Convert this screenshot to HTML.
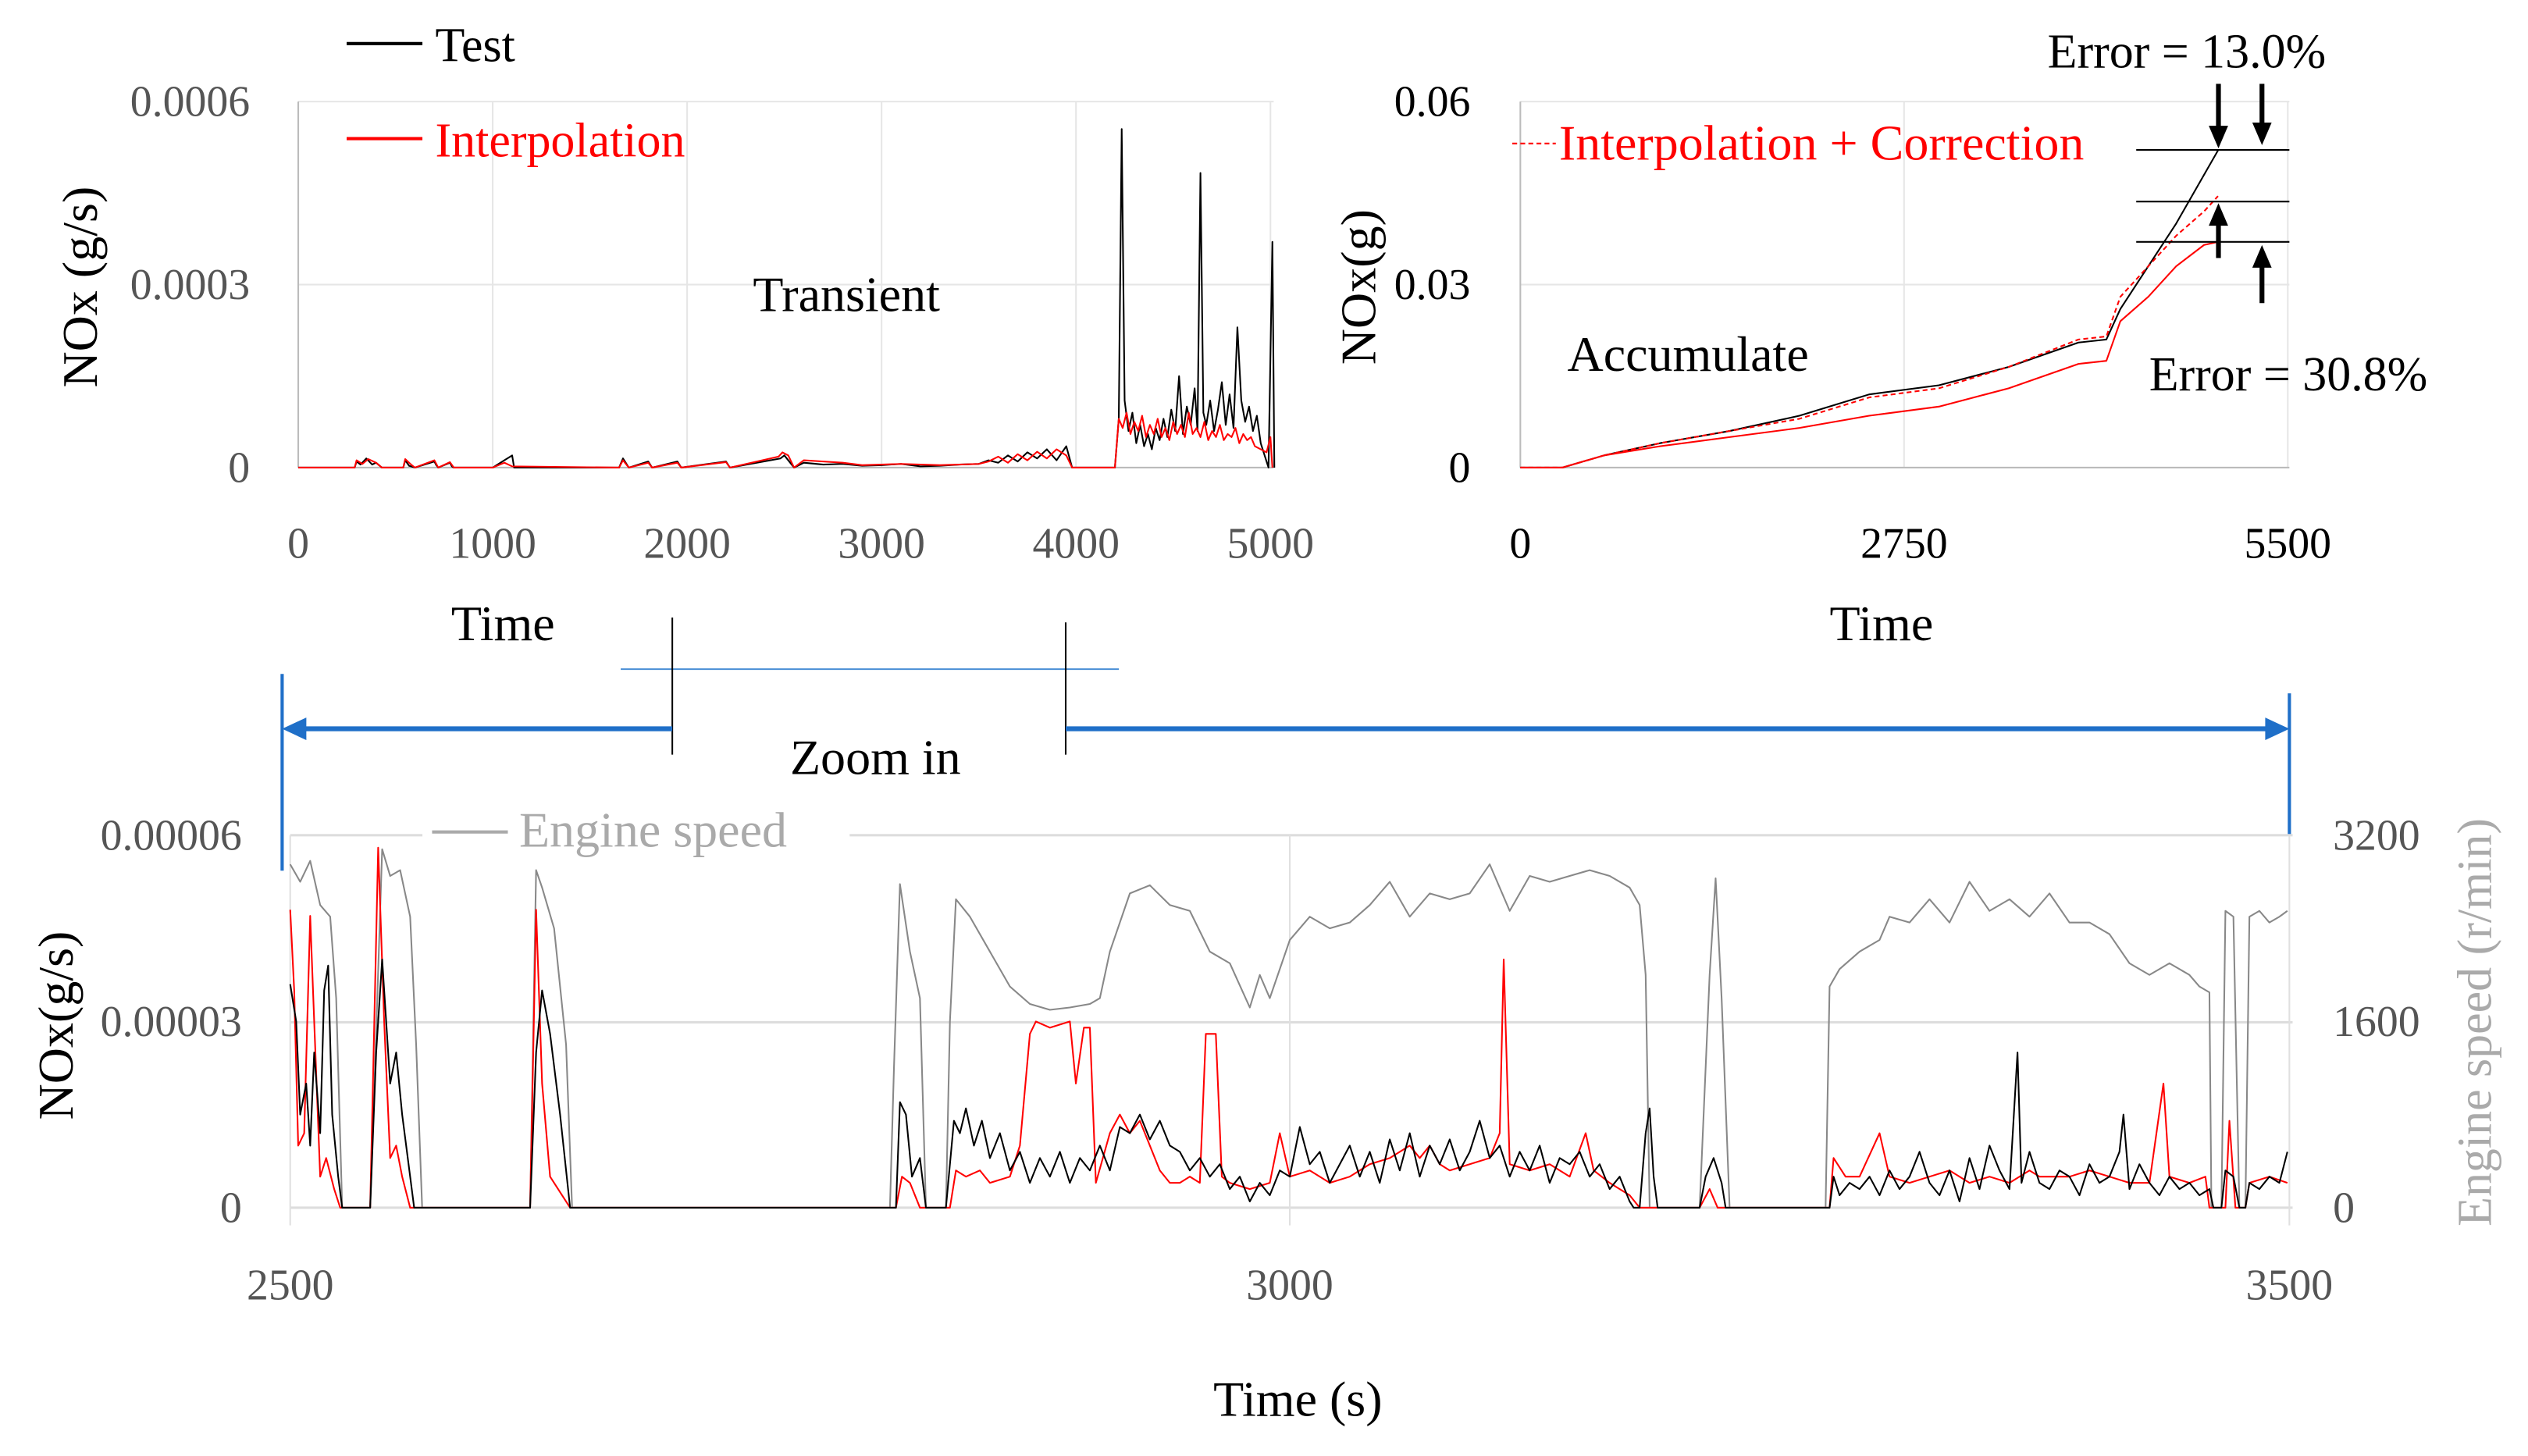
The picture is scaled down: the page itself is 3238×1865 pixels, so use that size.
<!DOCTYPE html>
<html><head><meta charset="utf-8"><style>
html,body{margin:0;padding:0;background:#fff;}
svg{display:block;font-family:"Liberation Serif",serif;}
</style></head><body>
<svg id="chart" width="3238" height="1865" viewBox="0 0 1568 903" preserveAspectRatio="none" xmlns="http://www.w3.org/2000/svg">
<g id="g-static"></g>
</svg>
<script>
// ---------- data ----------
// Top-left: transient NOx (g/s, ×1e-6)
const tlTestT = [0,290,300,320,350,380,400,430,540,550,570,600,700,710,720,780,790,800,1000,1050,1100,1110,1650,1670,1700,1800,1820,1950,1970,2200,2220,2480,2500,2550,2600,2700,2800,2900,3000,3100,3200,3300,3400,3500,3550,3600,3650,3700,3750,3800,3850,3900,3950,3980,4200,4220,4235,4250,4270,4290,4310,4330,4350,4370,4390,4410,4430,4450,4470,4490,4510,4530,4550,4570,4590,4610,4625,4640,4655,4670,4690,4710,4730,4750,4770,4790,4810,4830,4850,4870,4890,4910,4930,4950,4990,5010,5020];
const tlTestV = [0,0,10,5,15,5,8,0,0,12,3,0,10,4,0,8,2,0,0,10,20,0,0,15,0,10,0,10,0,10,0,15,20,0,8,5,6,3,4,6,2,3,5,6,12,8,20,10,25,15,30,12,35,0,0,80,555,110,60,90,40,70,35,55,30,65,45,80,50,95,60,150,55,100,70,130,60,483,90,70,110,60,95,140,70,120,65,230,110,75,100,60,85,40,0,370,0];
const tlIntT = [0,290,300,330,360,400,430,540,550,580,600,700,720,780,800,1000,1060,1100,1650,1670,1700,1800,1820,1950,1970,2200,2220,2470,2490,2520,2550,2600,2700,2800,2900,3000,3100,3300,3500,3550,3600,3650,3700,3750,3800,3850,3900,3950,3980,4200,4220,4240,4260,4280,4300,4320,4340,4360,4380,4400,4420,4440,4460,4480,4500,4520,4540,4560,4580,4600,4620,4640,4660,4680,4700,4720,4740,4760,4780,4800,4820,4840,4860,4880,4900,4920,4950,4980,5000,5010];
const tlIntV = [0,0,12,6,14,8,0,0,14,5,0,12,0,9,0,0,8,2,0,12,0,8,0,8,0,9,0,18,25,20,0,12,10,8,4,5,6,4,6,10,18,8,22,12,26,15,30,20,0,0,80,65,90,55,75,60,85,50,70,55,80,50,65,45,75,55,70,50,90,55,65,50,75,45,60,50,70,45,55,50,65,40,55,45,50,35,30,25,50,0];
// Top-right: accumulated NOx (g)
const trT = [0,300,600,1000,1500,2000,2500,3000,3500,4000,4200,4300,4500,4700,4900,5000];
const trTest = [0,0,0.002,0.004,0.006,0.0085,0.012,0.0135,0.0165,0.0205,0.021,0.026,0.033,0.040,0.048,0.052];
const trInt = [0,0,0.002,0.0035,0.005,0.0065,0.0085,0.010,0.013,0.017,0.0175,0.024,0.028,0.033,0.0365,0.037];
const trCorr = [0,0,0.002,0.004,0.006,0.008,0.0115,0.013,0.0165,0.021,0.0215,0.028,0.033,0.038,0.042,0.0445];
// Bottom: zoom 2500-3500 s
const bTestT=[2500,2503,2505,2508,2510,2512,2515,2517,2519,2521,2524,2526,2540,2543,2546,2548,2550,2553,2556,2560,2562,2620,2623,2626,2630,2635,2640,2803,2805,2808,2811,2815,2818,2828,2832,2835,2838,2842,2846,2850,2855,2860,2865,2870,2875,2880,2885,2890,2895,2900,2905,2910,2915,2920,2925,2930,2935,2940,2945,2950,2955,2960,2965,2970,2975,2980,2985,2990,2995,3000,3005,3010,3015,3020,3025,3030,3035,3040,3045,3050,3055,3060,3065,3070,3075,3080,3085,3090,3095,3100,3105,3110,3115,3120,3125,3130,3135,3140,3145,3150,3155,3160,3165,3170,3172,3175,3178,3180,3182,3184,3205,3208,3212,3216,3218,3270,3272,3275,3280,3285,3290,3295,3300,3305,3310,3315,3320,3325,3330,3335,3340,3345,3350,3355,3360,3364,3366,3370,3375,3380,3385,3390,3395,3400,3405,3410,3415,3417,3420,3425,3430,3435,3440,3445,3450,3455,3460,3462,3466,3468,3472,3475,3478,3480,3485,3490,3495,3499];
const bTestV=[36,30,15,20,10,25,12,35,39,15,5,0,0,25,40,30,20,25,15,5,0,0,25,35,28,15,0,0,17,15,5,8,0,0,14,12,16,10,14,8,12,6,9,4,8,5,9,4,8,6,10,6,13,12,15,11,14,10,9,6,8,5,7,3,5,1,4,2,6,5,13,7,9,4,7,10,5,9,4,11,6,12,5,10,7,11,6,9,14,8,10,5,9,6,10,4,8,7,9,5,7,3,5,1,0,0,12,16,5,0,0,5,8,4,0,0,5,2,4,3,5,2,6,3,5,9,4,2,6,1,8,3,10,6,3,25,4,9,4,3,6,5,2,7,4,5,9,15,3,7,4,2,5,3,4,2,3,0,0,6,5,0,0,4,3,5,4,9];
const bIntT=[2500,2502,2504,2507,2510,2512,2515,2518,2522,2525,2540,2544,2547,2550,2553,2556,2560,2620,2623,2626,2630,2636,2640,2803,2806,2810,2815,2830,2833,2838,2845,2850,2860,2865,2870,2873,2880,2890,2893,2897,2900,2903,2910,2915,2920,2925,2930,2935,2940,2945,2950,2955,2958,2963,2966,2970,2980,2990,2995,3000,3010,3020,3030,3040,3050,3060,3065,3070,3075,3080,3090,3100,3105,3107,3110,3120,3130,3140,3148,3152,3160,3170,3175,3205,3210,3214,3270,3272,3278,3285,3295,3300,3310,3320,3330,3340,3350,3360,3370,3375,3390,3400,3410,3420,3430,3437,3440,3450,3458,3460,3468,3470,3473,3478,3480,3490,3499];
const bIntV=[48,35,10,12,47,30,5,8,3,0,0,58,30,8,10,5,0,0,48,20,5,2,0,0,5,4,0,0,6,5,6,4,5,10,28,30,29,30,20,29,29,4,12,15,12,14,10,6,4,4,5,4,28,28,5,4,3,4,12,5,6,4,5,7,8,10,8,10,7,6,7,8,12,40,7,6,7,5,12,6,4,2,0,0,3,0,0,8,5,5,12,5,4,5,6,4,5,4,6,5,5,6,5,4,4,20,5,4,5,0,0,14,0,0,4,5,4];
const bSpdT=[2500,2505,2510,2515,2520,2523,2526,2540,2543,2546,2550,2555,2560,2563,2566,2620,2623,2626,2632,2638,2641,2800,2802,2805,2810,2815,2818,2828,2830,2833,2840,2850,2860,2870,2880,2890,2900,2905,2910,2920,2930,2940,2950,2960,2970,2980,2985,2990,3000,3010,3020,3030,3040,3050,3060,3070,3080,3090,3100,3110,3120,3130,3140,3150,3160,3170,3175,3178,3180,3205,3210,3213,3216,3220,3268,3270,3275,3285,3295,3300,3310,3320,3330,3340,3350,3360,3370,3380,3390,3400,3410,3420,3430,3440,3450,3455,3460,3461,3466,3468,3472,3475,3478,3480,3485,3490,3495,3499];
const bSpdV=[2950,2800,2980,2600,2500,1800,0,0,1500,3080,2850,2900,2500,1400,0,0,2900,2750,2400,1400,0,0,1200,2780,2200,1800,0,0,1600,2650,2500,2200,1900,1750,1700,1720,1750,1800,2200,2700,2770,2600,2550,2200,2100,1720,2000,1800,2300,2500,2400,2450,2600,2800,2500,2700,2650,2700,2950,2550,2850,2800,2850,2900,2850,2750,2600,2000,0,0,2000,2830,1800,0,0,1900,2050,2200,2300,2500,2450,2650,2450,2800,2550,2650,2500,2700,2450,2450,2350,2100,2000,2100,2000,1900,1850,0,0,2550,2500,0,0,2500,2550,2450,2500,2550];

// ---------- helpers ----------
const NS="http://www.w3.org/2000/svg";
const svg=document.getElementById('g-static');
function el(tag,attrs,parent){const e=document.createElementNS(NS,tag);for(const k in attrs)e.setAttribute(k,attrs[k]);(parent||svg).appendChild(e);return e;}
function txt(s,x,y,size,color,anchor,name,rot){const t=el('text',{x:x,y:y,'font-size':size,fill:color||'#000','text-anchor':anchor||'start'});if(rot)t.setAttribute('transform','rotate(-90 '+x+' '+y+')');t.textContent=s;


return t;}
function line(x1,y1,x2,y2,c,w,name,dash){const l=el('line',{x1:x1,y1:y1,x2:x2,y2:y2,stroke:c,'stroke-width':w});if(dash)l.setAttribute('stroke-dasharray',dash);


return l;}
function series(ts,vs,fx,fy,c,w,name,dash){let d='';for(let i=0;i<ts.length;i++)d+=(i?'L':'M')+fx(ts[i]).toFixed(2)+' '+fy(vs[i]).toFixed(2);const p=el('path',{d:d,fill:'none',stroke:c,'stroke-width':w,'stroke-linejoin':'round'});if(dash)p.setAttribute('stroke-dasharray',dash);


return p;}

// ---------- top-left ----------
const tlx=t=>185+t*(788-185)/5000, tly=v=>290-v*(290-63)/600;
[1000,2000,3000,4000,5000].forEach(t=>line(tlx(t),63,tlx(t),290,'#e6e6e6',1,'tl-grid-x'));
[300,600].forEach(v=>line(185,tly(v),790,tly(v),'#e6e6e6',1,'tl-grid-y'));
line(185,63,185,290,'#bbb',1,'tl-y-axis');
line(185,290,790,290,'#bbb',1,'tl-x-axis');
series(tlTestT,tlTestV,tlx,tly,'#000',1,'tl-test-line');
series(tlIntT,tlIntV,tlx,tly,'#f00',1,'tl-interp-line');
[['0.0006',600],['0.0003',300],['0',0]].forEach(a=>txt(a[0],155,tly(a[1])+9,27,'#555','end','tl-y-tick'));
[0,1000,2000,3000,4000,5000].forEach(t=>txt(String(t),tlx(t),346,27,'#555','middle','tl-x-tick'));
txt('Time',312,397,31,'#000','middle','tl-x-title');
txt('NOx (g/s)',60,178,31,'#000','middle','tl-y-title',true);
txt('Transient',525,193,31,'#000','middle','tl-annotation');
line(215,27,262,27,'#000',2,'legend-test-swatch');
txt('Test',270,38,30,'#000','start','legend-test');
line(215,86,262,86,'#f00',2,'legend-interp-swatch');
txt('Interpolation',270,97,30,'#f00','start','legend-interp');

// ---------- top-right ----------
const trx=t=>943+t*(1419-943)/5500, try_=v=>290-v*(290-63)/0.06;
line(trx(2750),63,trx(2750),290,'#e6e6e6',1,'tr-grid-x');
line(trx(5500),63,trx(5500),290,'#e6e6e6',1,'tr-grid-x');
[0.03,0.06].forEach(v=>line(943,try_(v),1420,try_(v),'#e6e6e6',1,'tr-grid-y'));
line(943,63,943,290,'#bbb',1,'tr-y-axis');
line(943,290,1420,290,'#bbb',1,'tr-x-axis');
series(trT,trTest,trx,try_,'#000',1,'tr-test-line');
series(trT,trInt,trx,try_,'#f00',1,'tr-interp-line');
series(trT,trCorr,trx,try_,'#f00',1,'tr-correction-line','3,2');
[['0.06',0.06],['0.03',0.03],['0',0]].forEach(a=>txt(a[0],912,try_(a[1])+9,27,'#000','end','tr-y-tick'));
[[0,'0'],[2750,'2750'],[5500,'5500']].forEach(a=>txt(a[1],trx(a[0]),346,27,'#000','middle','tr-x-tick'));
txt('Time',1167,397,31,'#000','middle','tr-x-title');
txt('NOx(g)',853,178,31,'#000','middle','tr-y-title',true);
txt('Accumulate',1047,230,31,'#000','middle','tr-annotation');
line(938,89,965,89,'#f00',1,'legend-correction-swatch','3,2');
txt('Interpolation + Correction',967,99,31,'#f00','start','legend-correction');
txt('Error = 13.0%',1270,42,30,'#000','start','error-test');
txt('Error = 30.8%',1333,242,30,'#000','start','error-interp');
[93,125,150].forEach(y=>line(1325,y,1420,y,'#000',1,'error-ref-line'));
line(1376,52,1376,80,'#000',3,'arrow-down-1');el('path',{d:'M1370 78 L1382 78 L1376 92 Z',fill:'#000',});
line(1403,52,1403,78,'#000',3,'arrow-down-2');el('path',{d:'M1397 76 L1409 76 L1403 90 Z',fill:'#000',});
line(1376,160,1376,138,'#000',3,'arrow-up-1');el('path',{d:'M1370 140 L1382 140 L1376 126 Z',fill:'#000',});
line(1403,188,1403,164,'#000',3,'arrow-up-2');el('path',{d:'M1397 166 L1409 166 L1403 152 Z',fill:'#000',});

// ---------- zoom markers ----------
line(385,415,694,415,'#4a8fd6',1,'zoom-range-line');
line(417,383,417,468,'#000',1,'zoom-start-marker');
line(661,386,661,468,'#000',1,'zoom-end-marker');
line(186,452,417,452,'#1f6fc8',3,'zoom-arrow-left');
el('path',{d:'M175 452 L190 445 L190 459 Z',fill:'#1f6fc8',});
line(661,452,1408,452,'#1f6fc8',3,'zoom-arrow-right');
el('path',{d:'M1420 452 L1405 445 L1405 459 Z',fill:'#1f6fc8',});
line(175,418,175,540,'#1f6fc8',2,'zoom-bound-left');
line(1420,430,1420,518,'#1f6fc8',2,'zoom-bound-right');
txt('Zoom in',543,480,31,'#000','middle','zoom-label');

// ---------- bottom ----------
const bx=t=>180+(t-2500)*1.24, by=v=>749-v*(749-518)/60, bs=v=>749-v*(749-518)/3200;
[518,634,749].forEach(y=>line(180,y,1422,y,'#ddd',1.5,'b-grid-y'));
[180,800,1420].forEach(x=>line(x,518,x,760,'#e0e0e0',1,'b-grid-x'));
el('rect',{x:262,y:500,width:265,height:36,fill:'#fff',});
series(bSpdT,bSpdV,bx,bs,'#888',1,'b-speed-line');
series(bIntT,bIntV,bx,by,'#f00',1,'b-interp-line');
series(bTestT,bTestV,bx,by,'#000',1,'b-test-line');
line(268,516,315,516,'#aaa',2,'legend-speed-swatch');
txt('Engine speed',322,525,31,'#aaa','start','legend-speed');
[['0.00006',60],['0.00003',30],['0',0]].forEach(a=>txt(a[0],150,by(a[1])+9,27,'#555','end','b-y-tick'));
[['3200',3200],['1600',1600],['0',0]].forEach(a=>txt(a[0],1447,bs(a[1])+9,27,'#555','start','b-y2-tick'));
[2500,3000,3500].forEach(t=>txt(String(t),bx(t),806,27,'#555','middle','b-x-tick'));
txt('Time (s)',805,878,31,'#000','middle','b-x-title');
txt('NOx(g/s)',45,636,31,'#000','middle','b-y-title',true);
txt('Engine speed (r/min)',1545,634,30,'#aaa','middle','b-y2-title',true);
</script>
</body></html>
